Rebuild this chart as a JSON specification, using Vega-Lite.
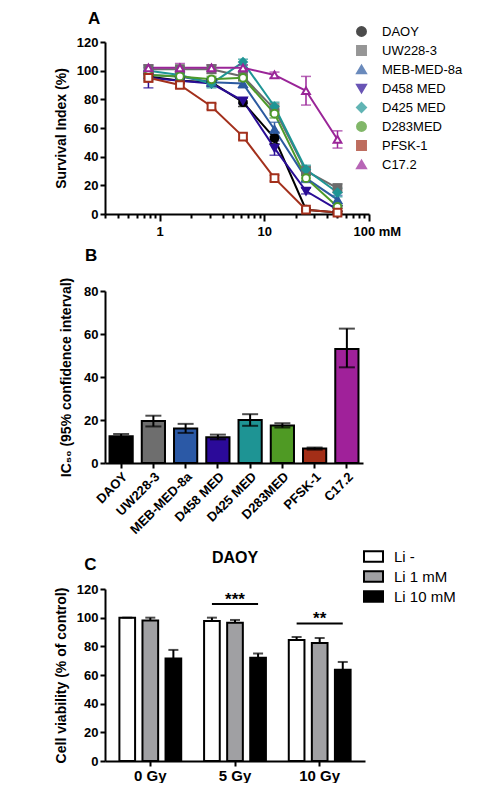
{
  "$schema": "https://vega.github.io/schema/vega-lite/v6.json",
  "padding": {"left": 54, "top": 10, "right": 0, "bottom": 0},
  "spacing": 9,
  "resolve": {
    "scale": {"fill": "independent", "stroke": "independent", "shape": "independent", "color": "independent", "x": "independent", "y": "independent"},
    "legend": {"fill": "independent", "stroke": "independent", "shape": "independent", "color": "independent"}
  },
  "config": {
    "font": "Liberation Sans",
    "view": {"stroke": null},
    "axis": {"grid": false, "domainColor": "black", "domainWidth": 2, "tickColor": "black", "tickWidth": 2, "tickSize": 5, "labelColor": "black", "labelFont": "Liberation Sans", "labelFontWeight": "bold", "labelFontSize": 13, "titleFont": "Liberation Sans", "titleFontWeight": "bold", "titleFontSize": 14, "titleColor": "black", "labelOverlap": false},
    "legend": {"labelFont": "Liberation Sans", "labelFontSize": 13, "labelColor": "black"},
    "title": {"font": "Liberation Sans", "fontWeight": "bold", "fontSize": 17, "color": "black"}
  },
  "vconcat": [
    {
      "width": 264,
      "height": 172,
      "title": {"text": "A", "anchor": "start", "frame": "group", "dx": -17, "offset": -3},
      "data": {"values": [
        {"s": "DAOY", "conc": 0.78, "v": 96, "e": 3},
        {"s": "DAOY", "conc": 1.56, "v": 93, "e": 2},
        {"s": "DAOY", "conc": 3.125, "v": 92, "e": 2},
        {"s": "DAOY", "conc": 6.25, "v": 78, "e": 3},
        {"s": "DAOY", "conc": 12.5, "v": 53, "e": 4},
        {"s": "DAOY", "conc": 25, "v": 3, "e": 1},
        {"s": "DAOY", "conc": 50, "v": 1, "e": 1},
        {"s": "UW228-3", "conc": 0.78, "v": 101, "e": 3},
        {"s": "UW228-3", "conc": 1.56, "v": 101, "e": 2},
        {"s": "UW228-3", "conc": 3.125, "v": 101, "e": 3},
        {"s": "UW228-3", "conc": 6.25, "v": 96, "e": 3},
        {"s": "UW228-3", "conc": 12.5, "v": 73, "e": 4},
        {"s": "UW228-3", "conc": 25, "v": 30, "e": 3},
        {"s": "UW228-3", "conc": 50, "v": 18, "e": 3},
        {"s": "MEB-MED-8a", "conc": 0.78, "v": 97, "e": 3},
        {"s": "MEB-MED-8a", "conc": 1.56, "v": 96, "e": 2},
        {"s": "MEB-MED-8a", "conc": 3.125, "v": 92, "e": 3},
        {"s": "MEB-MED-8a", "conc": 6.25, "v": 91, "e": 3},
        {"s": "MEB-MED-8a", "conc": 12.5, "v": 59, "e": 5},
        {"s": "MEB-MED-8a", "conc": 25, "v": 25, "e": 3},
        {"s": "MEB-MED-8a", "conc": 50, "v": 10, "e": 3},
        {"s": "D458 MED", "conc": 0.78, "v": 95, "e": 7},
        {"s": "D458 MED", "conc": 1.56, "v": 93, "e": 2},
        {"s": "D458 MED", "conc": 3.125, "v": 91, "e": 2},
        {"s": "D458 MED", "conc": 6.25, "v": 79, "e": 2},
        {"s": "D458 MED", "conc": 12.5, "v": 46, "e": 5},
        {"s": "D458 MED", "conc": 25, "v": 16, "e": 2},
        {"s": "D458 MED", "conc": 50, "v": 3, "e": 1},
        {"s": "D425 MED", "conc": 0.78, "v": 100, "e": 3},
        {"s": "D425 MED", "conc": 1.56, "v": 97, "e": 3},
        {"s": "D425 MED", "conc": 3.125, "v": 91, "e": 3},
        {"s": "D425 MED", "conc": 6.25, "v": 106, "e": 2},
        {"s": "D425 MED", "conc": 12.5, "v": 75, "e": 3},
        {"s": "D425 MED", "conc": 25, "v": 31, "e": 3},
        {"s": "D425 MED", "conc": 50, "v": 15, "e": 3},
        {"s": "D283MED", "conc": 0.78, "v": 97, "e": 2},
        {"s": "D283MED", "conc": 1.56, "v": 96, "e": 2},
        {"s": "D283MED", "conc": 3.125, "v": 94, "e": 2},
        {"s": "D283MED", "conc": 6.25, "v": 95, "e": 2},
        {"s": "D283MED", "conc": 12.5, "v": 70, "e": 3},
        {"s": "D283MED", "conc": 25, "v": 25, "e": 2},
        {"s": "D283MED", "conc": 50, "v": 5, "e": 1},
        {"s": "PFSK-1", "conc": 0.78, "v": 95, "e": 3},
        {"s": "PFSK-1", "conc": 1.56, "v": 90, "e": 2},
        {"s": "PFSK-1", "conc": 3.125, "v": 75, "e": 2},
        {"s": "PFSK-1", "conc": 6.25, "v": 54, "e": 2},
        {"s": "PFSK-1", "conc": 12.5, "v": 25, "e": 2},
        {"s": "PFSK-1", "conc": 25, "v": 3, "e": 1},
        {"s": "PFSK-1", "conc": 50, "v": 1, "e": 1},
        {"s": "C17.2", "conc": 0.78, "v": 102, "e": 2},
        {"s": "C17.2", "conc": 1.56, "v": 102, "e": 3},
        {"s": "C17.2", "conc": 3.125, "v": 102, "e": 2},
        {"s": "C17.2", "conc": 6.25, "v": 102, "e": 2},
        {"s": "C17.2", "conc": 12.5, "v": 97, "e": 2},
        {"s": "C17.2", "conc": 25, "v": 86, "e": 10},
        {"s": "C17.2", "conc": 50, "v": 52, "e": 6}
      ]},
      "encoding": {
        "x": {"field": "conc", "type": "quantitative",
          "scale": {"type": "log", "domain": [0.3, 100], "nice": false},
          "axis": {"title": null,
            "values": [0.3,0.4,0.5,0.6,0.7,0.8,0.9,1,2,3,4,5,6,7,8,9,10,20,30,40,50,60,70,80,90,100],
            "labelExpr": "datum.value==1?'1':datum.value==10?'10':datum.value==100?'100 mM':''",
            "tickSize": {"condition": {"test": "datum.value==1||datum.value==10||datum.value==100", "value": 7}, "value": 4},
            "labelAlign": {"condition": {"test": "datum.value==100", "value": "left"}, "value": "center"},
            "labelOffset": {"condition": {"test": "datum.value==100", "value": -16}, "value": 0},
            "labelOverlap": false, "labelFlush": false, "labelPadding": 4}},
        "y": {"field": "v", "type": "quantitative", "scale": {"domain": [0, 120]},
          "axis": {"title": "Survival Index (%)", "values": [0,20,40,60,80,100,120], "titlePadding": 8}},
        "color": {"field": "s", "type": "nominal",
          "scale": {"domain": ["DAOY","UW228-3","MEB-MED-8a","D458 MED","D425 MED","D283MED","PFSK-1","C17.2"],
                    "range": ["#000000","#6b6b6b","#2c5aa0","#2a0d96","#1f9595","#4d9a2a","#a3301c","#9a2598"]},
          "legend": {"orient": "none", "legendX": 250, "legendY": -17, "title": null, "labelFontSize": 13, "symbolSize": 80, "symbolStrokeWidth": 2, "rowPadding": 2, "labelOffset": 14}}
      },
      "layer": [
        {"mark": {"type": "line", "strokeWidth": 2}},
        {"mark": {"type": "errorbar", "ticks": {"size": 10}, "thickness": 1.5},
         "encoding": {"y": {"field": "v", "type": "quantitative"}, "yError": {"field": "e"}}},
        {"mark": {"type": "point", "filled": false, "size": 60, "strokeWidth": 2, "opacity": 1},
         "encoding": {
           "fill": {"field": "s", "type": "nominal", "legend": null,
             "scale": {"domain": ["DAOY","UW228-3","MEB-MED-8a","D458 MED","D425 MED","D283MED","PFSK-1","C17.2"],
                       "range": ["#000000","#6b6b6b","#2c5aa0","#2a0d96","#1f9595","#ffffff","#ffffff","#ffffff"]}},
           "shape": {"field": "s", "type": "nominal", "legend": null,
             "scale": {"domain": ["DAOY","UW228-3","MEB-MED-8a","D458 MED","D425 MED","D283MED","PFSK-1","C17.2"],
                       "range": ["circle","square","triangle-up","triangle-down","diamond","circle","square","triangle-up"]}}
         }}
      ]
    },
    {
      "width": 258,
      "height": 172,
      "title": {"text": "B", "anchor": "start", "frame": "group", "dx": -20, "offset": 12},
      "data": {"values": [
        {"c": "DAOY", "v": 12.5, "lo": 11.5, "hi": 13.5},
        {"c": "UW228-3", "v": 19.5, "lo": 17, "hi": 22},
        {"c": "MEB-MED-8a", "v": 16, "lo": 14, "hi": 18.2},
        {"c": "D458 MED", "v": 12, "lo": 11, "hi": 13.2},
        {"c": "D425 MED", "v": 20, "lo": 17.3, "hi": 22.7},
        {"c": "D283MED", "v": 17.5, "lo": 16.5, "hi": 18.5},
        {"c": "PFSK-1", "v": 6.7, "lo": 6.2, "hi": 7.2},
        {"c": "C17.2", "v": 53, "lo": 44.5, "hi": 62.5}
      ]},
      "encoding": {
        "x": {"field": "c", "type": "nominal", "sort": null,
          "scale": {"paddingInner": 0.28, "paddingOuter": 0.14},
          "axis": {"title": null, "labelAngle": -45, "labelFontSize": 13}}
      },
      "layer": [
        {"mark": {"type": "bar", "stroke": "black", "strokeWidth": 2},
         "encoding": {
           "y": {"field": "v", "type": "quantitative", "scale": {"domain": [0, 80]},
             "axis": {"title": "IC₅₀ (95% confidence interval)", "values": [0,20,40,60,80], "titlePadding": 10}},
           "fill": {"field": "c", "type": "nominal", "sort": null, "legend": null,
             "scale": {"domain": ["DAOY","UW228-3","MEB-MED-8a","D458 MED","D425 MED","D283MED","PFSK-1","C17.2"],
                       "range": ["#000000","#6e6e6e","#2b59a6","#2b0a99","#1e9494","#4f9a24","#a32e17","#a0219a"]}}}},
        {"mark": {"type": "errorbar", "ticks": {"size": 16}, "thickness": 2, "color": "black"},
         "encoding": {"y": {"field": "lo", "type": "quantitative", "title": "IC₅₀ (95% confidence interval)"}, "y2": {"field": "hi"}}}
      ]
    },
    {
      "title": {"text": "C", "anchor": "start", "dx": 30, "offset": -28, "fontSize": 17},
      "vconcat": [
        {
          "width": 260,
          "height": 172,
          "title": {"text": "DAOY", "anchor": "middle", "frame": "group", "fontSize": 16, "offset": 17},
          "encoding": {
            "y": {"type": "quantitative", "scale": {"domain": [0, 120]},
              "axis": {"title": "Cell viability (% of control)", "values": [0,20,40,60,80,100,120], "labelOverlap": false, "titlePadding": 8}}
          },
          "layer": [
            {
              "data": {"values": [
                {"g": "0 Gy", "c": "Li -", "v": 100, "hi": 100},
                {"g": "0 Gy", "c": "Li 1 mM", "v": 98, "hi": 100},
                {"g": "0 Gy", "c": "Li 10 mM", "v": 71.5, "hi": 77.5},
                {"g": "5 Gy", "c": "Li -", "v": 97.7, "hi": 100},
                {"g": "5 Gy", "c": "Li 1 mM", "v": 96.5, "hi": 98.4},
                {"g": "5 Gy", "c": "Li 10 mM", "v": 72, "hi": 75},
                {"g": "10 Gy", "c": "Li -", "v": 84.4, "hi": 86.5},
                {"g": "10 Gy", "c": "Li 1 mM", "v": 82.3, "hi": 85.8},
                {"g": "10 Gy", "c": "Li 10 mM", "v": 63.7, "hi": 69.1}
              ]},
              "layer": [
                {"mark": {"type": "bar", "stroke": "black", "strokeWidth": 2},
                 "encoding": {
                   "x": {"field": "g", "type": "nominal", "sort": ["0 Gy","5 Gy","10 Gy"],
                     "scale": {"paddingInner": 0.27, "paddingOuter": 0.17},
                     "axis": {"title": null, "labelAngle": 0, "labelFontSize": 15}},
                   "xOffset": {"field": "c", "type": "nominal", "sort": ["Li -","Li 1 mM","Li 10 mM"],
                     "scale": {"paddingInner": 0.32, "paddingOuter": 0}},
                   "y": {"field": "v", "type": "quantitative"},
                   "fill": {"field": "c", "type": "nominal", "sort": ["Li -","Li 1 mM","Li 10 mM"],
                     "scale": {"domain": ["Li -","Li 1 mM","Li 10 mM"], "range": ["#ffffff","#a0a0a3","#000000"]},
                     "legend": {"orient": "none", "legendX": 258, "legendY": -43, "title": null,
                       "symbolType": "M-1,-0.55H1V0.55H-1Z", "symbolSize": 361, "symbolStrokeColor": "black", "symbolStrokeWidth": 2,
                       "labelFontSize": 15, "rowPadding": 0, "labelOffset": 10}}}},
                {"mark": {"type": "rule", "color": "black", "strokeWidth": 2},
                 "encoding": {
                   "x": {"field": "g", "type": "nominal", "sort": ["0 Gy","5 Gy","10 Gy"]},
                   "xOffset": {"field": "c", "type": "nominal", "sort": ["Li -","Li 1 mM","Li 10 mM"]},
                   "y": {"field": "v", "type": "quantitative"},
                   "y2": {"field": "hi"}}},
                {"mark": {"type": "tick", "color": "black", "thickness": 2, "size": 10},
                 "encoding": {
                   "x": {"field": "g", "type": "nominal", "sort": ["0 Gy","5 Gy","10 Gy"]},
                   "xOffset": {"field": "c", "type": "nominal", "sort": ["Li -","Li 1 mM","Li 10 mM"]},
                   "y": {"field": "hi", "type": "quantitative"}}}
              ]
            },
            {
              "data": {"values": [
                {"g": "5 Gy", "c": "Li -", "y": 109.5, "k": "a"},
                {"g": "5 Gy", "c": "Li 10 mM", "y": 109.5, "k": "a"},
                {"g": "10 Gy", "c": "Li -", "y": 96, "k": "b"},
                {"g": "10 Gy", "c": "Li 10 mM", "y": 96, "k": "b"}
              ]},
              "mark": {"type": "line", "color": "black", "strokeWidth": 2},
              "encoding": {
                "x": {"field": "g", "type": "nominal", "sort": ["0 Gy","5 Gy","10 Gy"]},
                "xOffset": {"field": "c", "type": "nominal", "sort": ["Li -","Li 1 mM","Li 10 mM"]},
                "y": {"field": "y", "type": "quantitative"},
                "detail": {"field": "k"}}
            },
            {
              "data": {"values": [
                {"g": "5 Gy", "t": "***", "y": 109.5},
                {"g": "10 Gy", "t": "**", "y": 96}
              ]},
              "mark": {"type": "text", "fontSize": 17, "fontWeight": "bold", "baseline": "alphabetic", "dy": 1, "color": "black"},
              "encoding": {
                "x": {"field": "g", "type": "nominal", "sort": ["0 Gy","5 Gy","10 Gy"]},
                "y": {"field": "y", "type": "quantitative"},
                "text": {"field": "t"}}
            }
          ]
        }
      ]
    }
  ]
}
